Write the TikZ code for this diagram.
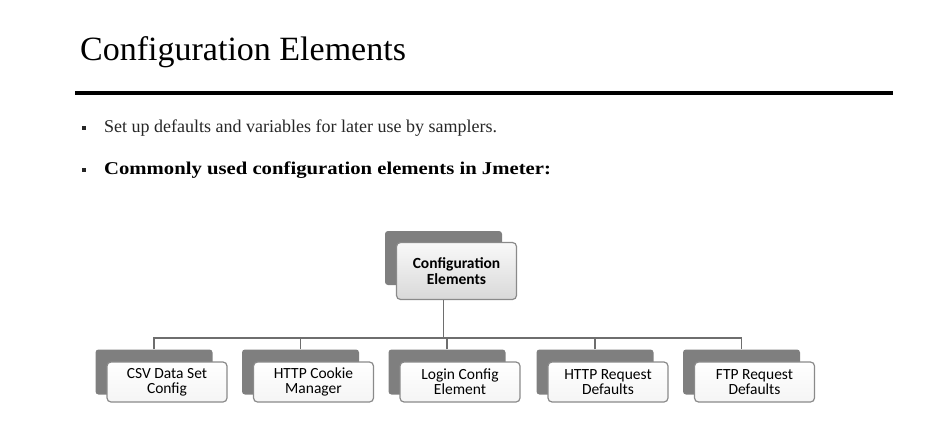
\documentclass[tikz,border=0pt]{standalone}
\usepackage{fontspec}
\setmainfont{Liberation Serif}
\newfontfamily\boxfont{Carlito}
\usetikzlibrary{positioning}

\definecolor{backgray}{HTML}{7F7F7F}
\definecolor{edgegray}{HTML}{8A8A8A}
\definecolor{linegray}{HTML}{6E6E6E}

\tikzset{
  backbox/.style={fill=backgray, rounded corners=3pt, minimum width=117pt, minimum height=45pt, inner sep=0pt},
  frontbox/.style={draw=edgegray, line width=1.2pt, rounded corners=4pt, top color=white, bottom color=gray!8,
    minimum width=120pt, minimum height=40pt, inner sep=0pt, align=center, font=\boxfont\fontsize{15.5}{15}\selectfont},
  headbox/.style={frontbox, minimum height=57pt, top color=gray!5, bottom color=gray!30, font=\boxfont\bfseries\fontsize{15.5}{16}\selectfont},
  link/.style={draw=linegray, line width=1.6pt},
  sqbullet/.style={fill=black!85, minimum size=4.5pt, inner sep=0pt}
}

\begin{document}
\begin{tikzpicture}[x=1pt,y=-1pt]
  \useasboundingbox (0,0) rectangle (940,447);
  % title and rule
  \node[anchor=base west, inner sep=0pt, font=\fontsize{34}{36}\selectfont] (title) at (80,60) {Configuration Elements};
  \coordinate (rulel) at (75,93);
  \coordinate (ruler) at (893,93);
  \draw[line width=3.5pt] (rulel) -- (ruler);
  % bullets
  \node[sqbullet] (b1) at (84,128) {};
  \node[anchor=west, inner sep=0pt, text=black!85, font=\fontsize{18}{20}\selectfont] (t1) at (104,128) {Set up defaults and variables for later use by samplers.};
  \node[sqbullet] (b2) at (84,170) {};
  \node[anchor=west, inner sep=0pt, font=\bfseries\fontsize{18}{20}\selectfont] (t2) at (104,170) {\scalebox{1.15}[1]{Commonly used configuration elements in Jmeter:}};
  % tree
  \node[backbox, minimum height=54pt] (topb) at (443.5,258) {};
  \node[headbox, xshift=13pt, yshift=-13pt] (top) at (topb) {Configuration\\Elements};
  \node[backbox] (csvb) at (154,372) {};
  \node[frontbox, xshift=13pt, yshift=-10pt] (csv) at (csvb) {CSV Data Set\\Config};
  \node[backbox] (cookieb) at (300.5,372) {};
  \node[frontbox, xshift=13pt, yshift=-10pt] (cookie) at (cookieb) {HTTP Cookie\\Manager};
  \node[backbox] (loginb) at (447,372) {};
  \node[frontbox, xshift=13pt, yshift=-10pt] (login) at (loginb) {Login Config\\Element};
  \node[backbox] (httpb) at (595,372) {};
  \node[frontbox, xshift=13pt, yshift=-10pt] (http) at (httpb) {HTTP Request\\Defaults};
  \node[backbox] (ftpb) at (741.5,372) {};
  \node[frontbox, xshift=13pt, yshift=-10pt] (ftp) at (ftpb) {FTP Request\\Defaults};
  \coordinate (bus) at (0,338);
  \draw[link] (top.south -| topb) -- (topb |- bus);
  \draw[link] (csvb.north) -- (csvb.north |- bus) -- (ftpb.north |- bus) -- (ftpb.north);
  \draw[link] (cookieb.north) -- (cookieb.north |- bus);
  \draw[link] (loginb.north) -- (loginb.north |- bus);
  \draw[link] (httpb.north) -- (httpb.north |- bus);
\end{tikzpicture}
\end{document}
